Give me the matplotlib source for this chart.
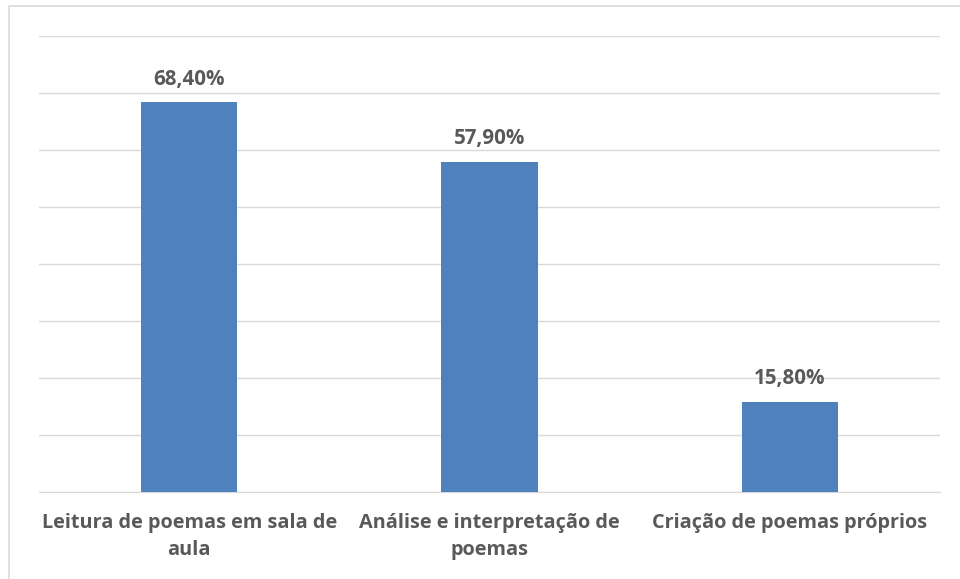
import matplotlib
matplotlib.use("Agg")
import matplotlib.pyplot as plt
from matplotlib.patches import Rectangle

categories = ["Leitura de poemas em sala de\naula",
              "Análise e interpretação de\npoemas",
              "Criação de poemas próprios"]
values = [68.4, 57.9, 15.8]
value_labels = ["68,40%", "57,90%", "15,80%"]

BAR, INK, GRID = "#4f81bd", "#595959", "#d9d9d9"

plt.rcParams["font.family"] = ["Open Sans", "DejaVu Sans"]

W, H = 960, 579
fig = plt.figure(figsize=(W / 100, H / 100), dpi=100, facecolor="white")
fig.patches.append(Rectangle((9 / W, -0.1), 1.2, 1.1 - 6 / H, transform=fig.transFigure,
                             fill=False, edgecolor=GRID, lw=1.2))
ax = fig.add_axes([39 / W, 87 / H, 901 / W, 456 / H])

x = range(len(categories))
ax.bar(x, values, width=0.32, color=BAR, zorder=3)
for xi, v, lab in zip(x, values, value_labels):
    ax.annotate(lab, (xi, v), xytext=(0, 9), textcoords="offset points",
                ha="center", va="bottom", fontsize=14.8, fontweight="bold", color=INK)

ax.set_xlim(-0.5, 2.5)
ax.set_ylim(0, 80)
ax.set_yticks(range(0, 81, 10))
ax.set_yticklabels([])
ax.tick_params(axis="y", length=0)
ax.grid(axis="y", color=GRID, lw=1)
ax.set_axisbelow(True)
for sp in ("top", "right", "left"):
    ax.spines[sp].set_visible(False)
ax.spines["bottom"].set_color(GRID)
ax.set_xticks(list(x))
ax.set_xticklabels(categories, fontsize=14.3, fontweight="bold", color=INK, linespacing=1.45)
ax.tick_params(axis="x", length=0, pad=15)

fig.savefig("out.png", dpi=100, facecolor="white")
